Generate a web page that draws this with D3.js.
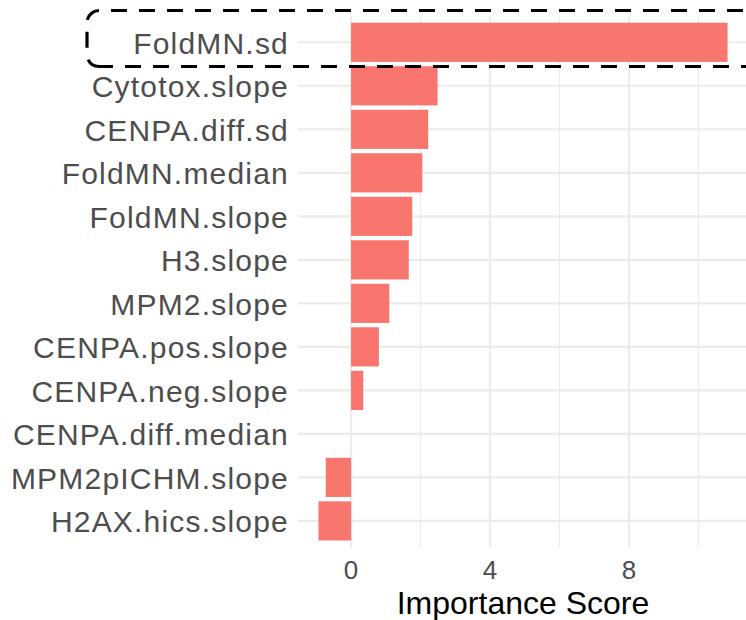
<!DOCTYPE html>
<html>
<head>
<meta charset="utf-8">
<script src="https://cdn.jsdelivr.net/npm/d3@7"></script>
<style>
  html, body { margin: 0; padding: 0; background: #fff; }
  svg { display: block; }
  text { font-family: "Liberation Sans", Arial, Helvetica, sans-serif; }
</style>
</head>
<body>
<svg id="chart" width="746" height="620"></svg>
<script>
// Feature importance, top to bottom
const features = [
  "FoldMN.sd", "Cytotox.slope", "CENPA.diff.sd", "FoldMN.median",
  "FoldMN.slope", "H3.slope", "MPM2.slope", "CENPA.pos.slope",
  "CENPA.neg.slope", "CENPA.diff.median", "MPM2pICHM.slope", "H2AX.hics.slope"
];
const scores = [10.84, 2.49, 2.22, 2.05, 1.76, 1.66, 1.10, 0.80, 0.35, 0.0, -0.73, -0.94];
const majorTicks = [0, 4, 8];
const minorTicks = [2, 6, 10];
const xTitle = "Importance Score";
const highlighted = "FoldMN.sd";

const data = features.map((f, i) => ({ feature: f, score: scores[i] }));

const svg = d3.select("#chart");
const panel = { left: 298, right: 748, top: 16.2, bottom: 547 };

// continuous axis with 5% expansion on each side
const lo = d3.min(scores), hi = d3.max(scores);
const pad = (hi - lo) * 0.05;
const x = d3.scaleLinear().domain([lo - pad, hi + pad]).range([panel.left, panel.right]);

const y = d3.scaleBand()
  .domain(features)
  .range([panel.top, panel.bottom])
  .paddingInner(0.1)
  .paddingOuter(0.15);

const grid = svg.append("g");
// minor vertical gridlines
grid.selectAll("line.minor").data(minorTicks).join("line")
  .attr("x1", d => x(d)).attr("x2", d => x(d))
  .attr("y1", panel.top).attr("y2", panel.bottom)
  .attr("stroke", "#ebebeb").attr("stroke-width", 1.1);
// major vertical gridlines
grid.selectAll("line.major").data(majorTicks).join("line")
  .attr("x1", d => x(d)).attr("x2", d => x(d))
  .attr("y1", panel.top).attr("y2", panel.bottom)
  .attr("stroke", "#ebebeb").attr("stroke-width", 2.1);
// horizontal gridlines at each category
grid.selectAll("line.cat").data(features).join("line")
  .attr("x1", panel.left).attr("x2", panel.right)
  .attr("y1", d => y(d) + y.bandwidth() / 2).attr("y2", d => y(d) + y.bandwidth() / 2)
  .attr("stroke", "#ebebeb").attr("stroke-width", 2.1);

// bars
svg.append("g").selectAll("rect").data(data).join("rect")
  .attr("x", d => x(Math.min(0, d.score)))
  .attr("width", d => Math.abs(x(d.score) - x(0)))
  .attr("y", d => y(d.feature))
  .attr("height", y.bandwidth())
  .attr("fill", "#F8766D");

// category labels
svg.append("g").selectAll("text").data(features).join("text")
  .attr("x", 289)
  .attr("y", d => y(d) + y.bandwidth() / 2)
  .attr("dy", "0.38em")
  .attr("text-anchor", "end")
  .attr("font-size", 30)
  .attr("letter-spacing", 1.2)
  .attr("fill", "#4d4d4d")
  .text(d => d);

// x tick labels
svg.append("g").selectAll("text").data(majorTicks).join("text")
  .attr("x", d => x(d))
  .attr("y", 579)
  .attr("text-anchor", "middle")
  .attr("font-size", 26)
  .attr("fill", "#4d4d4d")
  .text(d => d);

// axis title
svg.append("text")
  .attr("x", (panel.left + panel.right) / 2)
  .attr("y", 614)
  .attr("text-anchor", "middle")
  .attr("font-size", 32)
  .attr("fill", "#000")
  .text(xTitle);

// dashed rounded box around the top-ranked feature
const yc = y(highlighted) + y.bandwidth() / 2;
const boxTop = yc - 31.8, boxBot = yc + 24.2, boxLeft = 87, r = 12, boxRight = 780;
const dash = { "stroke": "#000", "stroke-width": 3.2, "fill": "none", "stroke-dasharray": "16 12" };
function styled(sel) { Object.entries(dash).forEach(([k, v]) => sel.attr(k, v)); return sel; }

styled(svg.append("path")
  .attr("d", `M${boxLeft + r},${boxTop} H${boxRight}`)
  .attr("stroke-dashoffset", 16));
styled(svg.append("path")
  .attr("d", `M${boxLeft + r},${boxTop} A${r},${r} 0 0 0 ${boxLeft},${boxTop + r} V${boxBot - r} A${r},${r} 0 0 0 ${boxLeft + r},${boxBot}`)
  .attr("stroke-dasharray", "18 10"));
styled(svg.append("path")
  .attr("d", `M${boxLeft + r},${boxBot} H${boxRight}`)
  .attr("stroke-dashoffset", 2));
</script>
</body>
</html>
